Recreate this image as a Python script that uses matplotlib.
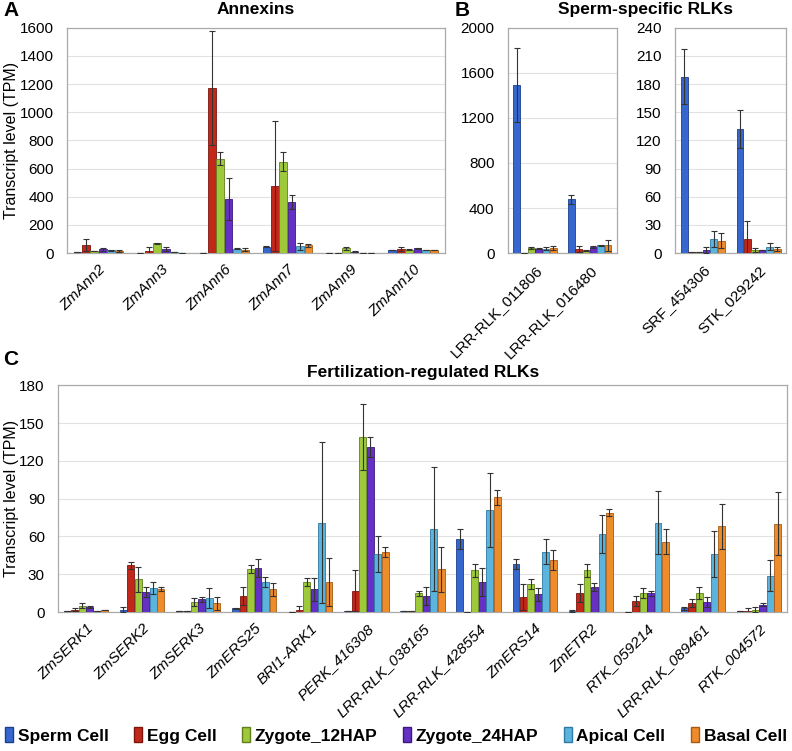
import numpy as np
import matplotlib.pyplot as plt
from matplotlib.patches import Patch

plt.rcParams['font.family'] = ['Liberation Sans', 'DejaVu Sans']

# ---- data ----
cells = ["Sperm Cell", "Egg Cell", "Zygote_12HAP", "Zygote_24HAP", "Apical Cell", "Basal Cell"]
colors = ["#3567cf", "#c1281a", "#9dc93a", "#6530c4", "#5ab4de", "#ee8b2b"]
edges = ["#1d3f8c", "#7e150c", "#627f1f", "#3d1880", "#2f7aa3", "#a65a14"]

ann_genes = ["ZmAnn2", "ZmAnn3", "ZmAnn6", "ZmAnn7", "ZmAnn9", "ZmAnn10"]
# rows = genes, cols = cells
ann_val = [[5, 57, 15, 27, 20, 15],
           [3, 18, 70, 28, 8, 3],
           [3, 1170, 670, 385, 30, 25],
           [45, 475, 650, 365, 50, 55],
           [0, 0, 35, 10, 3, 3],
           [22, 28, 25, 35, 22, 22]]
ann_err = [[0, 40, 3, 12, 5, 6],
           [0, 22, 5, 12, 2, 0],
           [0, 405, 45, 150, 4, 10],
           [4, 460, 65, 50, 25, 10],
           [0, 0, 10, 3, 0, 0],
           [3, 12, 4, 4, 3, 3]]

sp1_genes = ["LRR-RLK_011806", "LRR-RLK_016480"]
sp1_val = [[1490, 3, 45, 38, 40, 45],
           [478, 35, 25, 55, 70, 70]]
sp1_err = [[330, 0, 6, 5, 15, 15],
           [38, 25, 4, 8, 6, 50]]

sp2_genes = ["SRF_454306", "STK_029242"]
sp2_val = [[188, 1, 1, 3, 15, 13],
           [132, 15, 3, 3, 7, 4]]
sp2_err = [[29, 0, 0, 3, 8, 8],
           [20, 19, 2, 0, 4, 2]]

fr_genes = ["ZmSERK1", "ZmSERK2", "ZmSERK3", "ZmERS25", "BRI1-ARK1", "PERK_416308",
            "LRR-RLK_038165", "LRR-RLK_428554", "ZmERS14", "ZmETR2", "RTK_059214",
            "LRR-RLK_089461", "RTK_004572"]
fr_val = [[0.5, 2, 5, 4, 1, 2],
          [2, 37, 26, 16, 19, 18],
          [0.5, 1, 8, 10, 11, 7],
          [3, 13, 34, 35, 24, 18],
          [0.3, 2, 24, 18, 71, 24],
          [1, 17, 139, 131, 46, 48],
          [0.5, 1, 15, 13, 66, 34],
          [58, 0, 33, 24, 81, 91],
          [38, 12, 22, 14, 48, 41],
          [1, 15, 33, 20, 62, 79],
          [0.3, 9, 15, 15, 71, 56],
          [3, 7, 15, 8, 46, 68],
          [0.5, 1, 2, 6, 29, 70]]
fr_err = [[0, 1, 2, 1, 0, 0],
          [2, 3, 10, 4, 5, 1.5],
          [0, 0, 3, 2, 8, 5],
          [0.5, 7, 3, 7, 4, 5],
          [0, 3, 3, 9, 64, 19],
          [0, 16, 26, 8, 14, 4],
          [0, 0, 2, 7, 49, 18],
          [8, 0, 5, 11, 29, 6],
          [4, 10, 4, 5, 10, 8],
          [1, 7, 5, 3, 15, 3],
          [0, 4, 4, 2, 25, 10],
          [1, 3, 5, 4, 18, 18],
          [0, 2, 2, 1, 12, 25]]


def draw(ax, genes, vals, errs, ymax, step, italic=True):
    vals = np.array(vals)
    errs = np.array(errs)
    x = np.arange(len(genes))
    w = 0.8 / 6
    for i in range(6):
        xs = x - 0.4 + w * (i + 0.5)
        ax.bar(xs, vals[:, i], width=w * 0.92, color=colors[i], edgecolor=edges[i],
               linewidth=0.6, zorder=3)
        ax.errorbar(xs, vals[:, i], yerr=errs[:, i], fmt='none', ecolor='#333333',
                    elinewidth=0.8, capsize=2, capthick=0.8, zorder=4)
    ax.set_xlim(-0.5, len(genes) - 0.5)
    ax.set_ylim(0, ymax)
    ax.set_yticks(np.arange(0, ymax + 1, step))
    ax.yaxis.grid(True, color='#e2e2e2', linewidth=0.8, zorder=0)
    ax.set_axisbelow(True)
    ax.set_xticks(x)
    ax.set_xticklabels(genes, rotation=45, ha='right', rotation_mode='anchor',
                       style='italic' if italic else 'normal')
    ax.tick_params(axis='both', length=0)
    ax.tick_params(axis='x', labelsize=11, pad=7)
    ax.tick_params(axis='y', labelsize=11, pad=9.5)
    for s in ax.spines.values():
        s.set_color('#aaaaaa')
        s.set_linewidth(0.9)


fig = plt.figure(figsize=(7.92, 7.51), dpi=100)

axA = fig.add_axes([0.0846, 0.663, 0.477, 0.300])
draw(axA, ann_genes, ann_val, ann_err, 1600, 200)
axA.set_ylabel("Transcript level (TPM)", fontsize=11.5)
axA.yaxis.set_label_coords(-0.128, 0.5)

axB1 = fig.add_axes([0.641, 0.663, 0.138, 0.300])
draw(axB1, sp1_genes, sp1_val, sp1_err, 2000, 400, italic=False)

axB2 = fig.add_axes([0.852, 0.663, 0.141, 0.300])
draw(axB2, sp2_genes, sp2_val, sp2_err, 240, 30, italic=False)

axC = fig.add_axes([0.0732, 0.185, 0.9205, 0.302])
draw(axC, fr_genes, fr_val, fr_err, 180, 30)
axC.set_ylabel("Transcript level (TPM)", fontsize=11.5)
axC.yaxis.set_label_coords(-0.054, 0.5)

fig.text(0.323, 0.988, "Annexins", ha='center', va='center',
         fontsize=12.5, fontweight='bold')
fig.text(0.815, 0.988, "Sperm-specific RLKs", ha='center', va='center',
         fontsize=12.5, fontweight='bold')
fig.text(0.534, 0.504, "Fertilization-regulated RLKs", ha='center', va='center',
         fontsize=12.5, fontweight='bold')
fig.text(0.004, 0.986, "A", fontsize=15, fontweight='bold', va='center')
fig.text(0.574, 0.986, "B", fontsize=15, fontweight='bold', va='center')
fig.text(0.004, 0.521, "C", fontsize=15, fontweight='bold', va='center')

handles = [Patch(facecolor=colors[i], edgecolor=edges[i], label=cells[i]) for i in range(6)]
leg = fig.legend(handles=handles, loc='center', bbox_to_anchor=(0.5, 0.021), ncol=6,
                 frameon=False, handlelength=0.45, handleheight=1.0, handletextpad=0.25,
                 columnspacing=1.5, prop={'weight': 'bold', 'size': 12.5})

fig.savefig("out.png", dpi=100)
